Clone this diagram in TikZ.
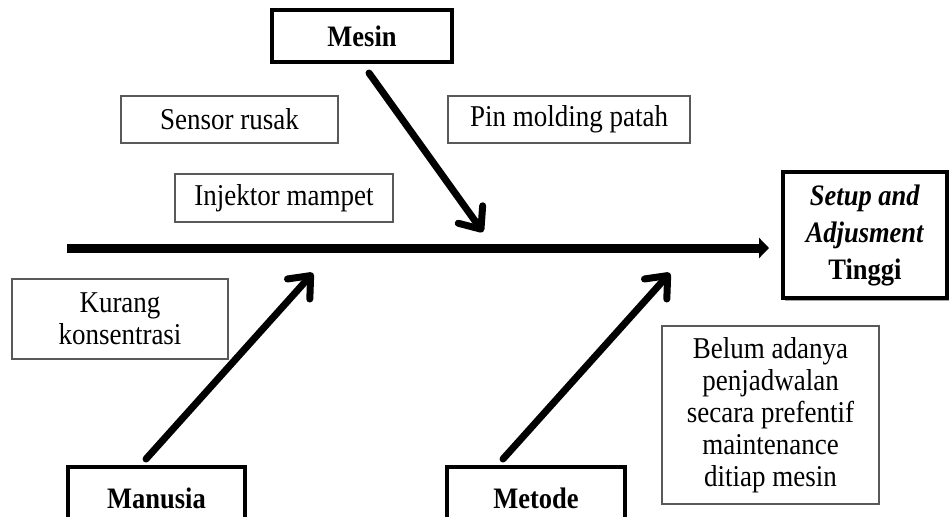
\documentclass[tikz,border=0pt]{standalone}
\usepackage{fontspec}
\usepackage{graphicx}
\setmainfont{Liberation Serif}
\usetikzlibrary{arrows.meta,shadows}
\newcommand{\vst}[1]{\scalebox{1}[1.12]{#1}}
\tikzset{
  causebox/.style={draw=black!65, line width=1.3pt, fill=white, inner sep=0pt, align=center,
    font=\fontsize{27}{32}\selectfont},
  catbox/.style={draw=black, line width=4pt, fill=white, inner sep=0pt, align=center,
    font=\fontsize{26.5}{37}\selectfont\bfseries,
    drop shadow={shadow xshift=2pt, shadow yshift=-2.5pt, opacity=0.35, fill=black}},
  spinearrow/.style={line width=9pt, -{Triangle[length=10pt, width=20pt]}},
  bonearrow/.style={line width=7pt, line cap=round,
    -{Straight Barb[round, length=18pt, width=30pt]}}
}
\begin{document}
\begin{tikzpicture}[x=1pt,y=-1pt]
\clip (0,0) rectangle (949,516);
\fill[white] (0,0) rectangle (949,516);

% cause boxes
\node[causebox, minimum width=217pt, minimum height=47pt] (sensor) at (229.5,119.5) {\vst{Sensor rusak}};
\node[causebox, minimum width=242pt, minimum height=47pt] (pin) at (569,119.5) {\vst{Pin molding patah}};
\node[causebox, minimum width=218pt, minimum height=48pt] (injektor) at (284,198) {\vst{Injektor mampet}};
\node[causebox, minimum width=216pt, minimum height=80pt] (kurang) at (120,319) {\vst{Kurang}\\\vst{konsentrasi}};
\node[causebox, minimum width=217pt, minimum height=178pt] (belum) at (770.5,415)
  {\vst{Belum adanya}\\\vst{penjadwalan}\\\vst{secara prefentif}\\\vst{maintenance}\\\vst{ditiap mesin}};

% category boxes
\node[catbox, minimum width=180pt, minimum height=52pt] (mesin) at (362,36) {\vst{Mesin}};
\node[catbox, minimum width=177pt, minimum height=62pt] (manusia) at (156.5,498) {\vst{Manusia}};
\node[catbox, minimum width=178pt, minimum height=62pt] (metode) at (536,498) {\vst{Metode}};
\node[catbox, minimum width=164pt, minimum height=126pt] (effect) at (865,235)
  {\vst{\textit{Setup and}}\\\vst{\textit{Adjusment}}\\\vst{Tinggi}};

% spine
\coordinate (spineS) at (67,248);
\coordinate (spineE) at (769,248);
\draw[spinearrow] (spineS) -- (spineE);

% bones
\coordinate (mesinS) at (369,73);
\coordinate (mesinE) at (483,232);
\coordinate (manusiaS) at (146,459);
\coordinate (manusiaE) at (313,273);
\coordinate (metodeS) at (503,459);
\coordinate (metodeE) at (670,273);
\draw[bonearrow] (mesinS) -- (mesinE);
\draw[bonearrow] (manusiaS) -- (manusiaE);
\draw[bonearrow] (metodeS) -- (metodeE);
\end{tikzpicture}
\end{document}
